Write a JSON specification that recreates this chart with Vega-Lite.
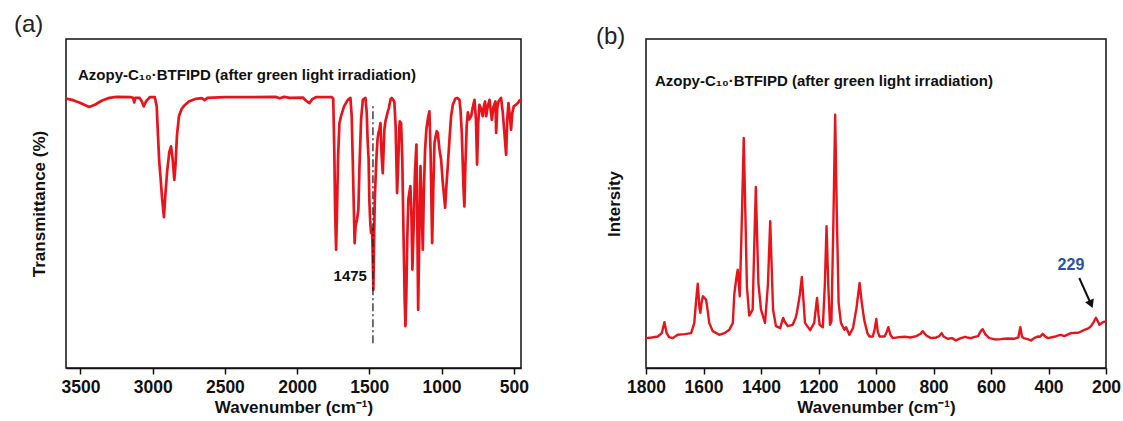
{
  "$schema": "https://vega.github.io/schema/vega-lite/v6.json",
  "background": "white",
  "padding": {"left": 13, "top": 12, "right": 5, "bottom": 5},
  "bounds": "flush",
  "spacing": 125,
  "config": {
    "font": "Liberation Sans",
    "view": {"stroke": "#111111", "strokeWidth": 1.5},
    "axis": {
      "grid": false,
      "labelFont": "Liberation Sans",
      "labelFontSize": 17.5,
      "labelFontWeight": "bold",
      "labelColor": "#111111",
      "titleFont": "Liberation Sans",
      "titleFontSize": 17,
      "titleFontWeight": "bold",
      "titleColor": "#111111",
      "tickColor": "#111111",
      "tickWidth": 1.5,
      "domainColor": "#111111",
      "domainWidth": 1.5,
      "labelFlush": false,
      "labelOverlap": false
    },
    "axisX": {"labelPadding": 4, "titlePadding": 4, "labelAngle": 0},
    "axisY": {"labels": false, "ticks": false, "domain": false},
    "title": {"font": "Liberation Sans", "fontSize": 24, "fontWeight": "normal", "color": "#222222", "anchor": "start", "frame": "group"}
  },
  "datasets": {
    "ftir": [
      {"wn":3600,"t":82.4},{"wn":3550,"t":81.9},{"wn":3500,"t":81.0},{"wn":3440,"t":79.8},{"wn":3400,"t":80.5},{"wn":3350,"t":81.8},{"wn":3300,"t":82.6},{"wn":3250,"t":82.9},{"wn":3150,"t":82.8},{"wn":3135,"t":82.6},{"wn":3128,"t":81.2},{"wn":3120,"t":82.6},{"wn":3090,"t":82.6},{"wn":3075,"t":81.5},{"wn":3062,"t":80.0},{"wn":3045,"t":81.6},{"wn":3020,"t":82.8},{"wn":2985,"t":82.8},{"wn":2972,"t":80},{"wn":2962,"t":70},{"wn":2955,"t":63.5},{"wn":2945,"t":58},{"wn":2935,"t":52},{"wn":2922,"t":46.1},{"wn":2912,"t":53},{"wn":2900,"t":60},{"wn":2885,"t":66},{"wn":2873,"t":67.8},{"wn":2862,"t":64},{"wn":2850,"t":57.5},{"wn":2842,"t":62},{"wn":2832,"t":71},{"wn":2818,"t":77},{"wn":2800,"t":79.2},{"wn":2780,"t":80.3},{"wn":2750,"t":81.5},{"wn":2700,"t":82.3},{"wn":2660,"t":82.5},{"wn":2640,"t":81.9},{"wn":2620,"t":82.6},{"wn":2500,"t":82.8},{"wn":2300,"t":82.8},{"wn":2150,"t":82.9},{"wn":2120,"t":82.5},{"wn":2090,"t":82.9},{"wn":2050,"t":82.6},{"wn":1960,"t":82.7},{"wn":1940,"t":81.8},{"wn":1915,"t":81.0},{"wn":1895,"t":82.2},{"wn":1870,"t":82.8},{"wn":1800,"t":82.8},{"wn":1760,"t":82.8},{"wn":1750,"t":82.4},{"wn":1742,"t":65},{"wn":1737,"t":48},{"wn":1730,"t":36.2},{"wn":1724,"t":48},{"wn":1716,"t":65},{"wn":1707,"t":74.9},{"wn":1696,"t":77},{"wn":1675,"t":80},{"wn":1649,"t":82.0},{"wn":1631,"t":82.6},{"wn":1622,"t":77},{"wn":1614,"t":62},{"wn":1602,"t":38.2},{"wn":1595,"t":43.5},{"wn":1585,"t":45.4},{"wn":1576,"t":48.4},{"wn":1568,"t":62},{"wn":1557,"t":76},{"wn":1545,"t":82.0},{"wn":1527,"t":82.6},{"wn":1518,"t":78},{"wn":1511,"t":68.8},{"wn":1505,"t":64},{"wn":1500,"t":51.5},{"wn":1494,"t":45},{"wn":1488,"t":41.3},{"wn":1481,"t":42.5},{"wn":1477,"t":35},{"wn":1472,"t":23.9},{"wn":1467,"t":40},{"wn":1462,"t":52},{"wn":1458,"t":56.6},{"wn":1450,"t":65},{"wn":1443,"t":70},{"wn":1437,"t":71.9},{"wn":1430,"t":73},{"wn":1423,"t":74.9},{"wn":1415,"t":65},{"wn":1407,"t":59.6},{"wn":1400,"t":68},{"wn":1396,"t":72.9},{"wn":1388,"t":75.5},{"wn":1380,"t":77},{"wn":1365,"t":79.5},{"wn":1352,"t":82.3},{"wn":1345,"t":82.6},{"wn":1327,"t":81.5},{"wn":1318,"t":74},{"wn":1308,"t":53.5},{"wn":1300,"t":62},{"wn":1293,"t":73},{"wn":1289,"t":75.4},{"wn":1280,"t":74.9},{"wn":1272,"t":64},{"wn":1263,"t":40},{"wn":1255,"t":20},{"wn":1250,"t":12.8},{"wn":1244,"t":22},{"wn":1237,"t":40},{"wn":1230,"t":51.5},{"wn":1222,"t":54},{"wn":1216,"t":55.6},{"wn":1208,"t":46},{"wn":1202,"t":30.1},{"wn":1192,"t":45},{"wn":1184,"t":60},{"wn":1174,"t":68.3},{"wn":1168,"t":45},{"wn":1162,"t":17.8},{"wn":1154,"t":40},{"wn":1146,"t":61.7},{"wn":1138,"t":50},{"wn":1130,"t":36.2},{"wn":1122,"t":55},{"wn":1114,"t":66.8},{"wn":1105,"t":73},{"wn":1094,"t":76.5},{"wn":1084,"t":78.5},{"wn":1076,"t":66},{"wn":1065,"t":38.2},{"wn":1057,"t":55},{"wn":1049,"t":68.8},{"wn":1040,"t":71},{"wn":1033,"t":72.4},{"wn":1026,"t":71.9},{"wn":1015,"t":67},{"wn":1003,"t":63.7},{"wn":992,"t":57},{"wn":975,"t":49},{"wn":966,"t":56},{"wn":957,"t":61.7},{"wn":945,"t":70},{"wn":934,"t":77},{"wn":922,"t":80.5},{"wn":905,"t":82.3},{"wn":890,"t":82.6},{"wn":876,"t":82},{"wn":869,"t":79.0},{"wn":860,"t":72},{"wn":848,"t":55},{"wn":842,"t":49.4},{"wn":835,"t":62},{"wn":826,"t":74},{"wn":818,"t":78.2},{"wn":808,"t":76},{"wn":795,"t":77.0},{"wn":785,"t":79.5},{"wn":772,"t":82.0},{"wn":762,"t":76},{"wn":754,"t":62.2},{"wn":746,"t":75},{"wn":738,"t":80.5},{"wn":726,"t":79.2},{"wn":715,"t":77.0},{"wn":707,"t":80},{"wn":699,"t":81.5},{"wn":691,"t":77.0},{"wn":680,"t":80},{"wn":668,"t":82.0},{"wn":660,"t":79},{"wn":652,"t":75.9},{"wn":640,"t":80},{"wn":627,"t":81.5},{"wn":622,"t":71.9},{"wn":614,"t":79.5},{"wn":606,"t":81.5},{"wn":588,"t":82.6},{"wn":576,"t":78.0},{"wn":565,"t":72},{"wn":553,"t":65.2},{"wn":545,"t":76},{"wn":537,"t":81.0},{"wn":527,"t":77},{"wn":519,"t":72.9},{"wn":510,"t":78},{"wn":500,"t":80.0},{"wn":485,"t":80.5},{"wn":472,"t":81.0},{"wn":460,"t":81.8},{"wn":450,"t":82.0}
    ],
    "raman": [
      {"wn":1800,"i":9.0},{"wn":1780,"i":9.2},{"wn":1759,"i":9.5},{"wn":1745,"i":10.5},{"wn":1736,"i":13.8},{"wn":1728,"i":10.5},{"wn":1720,"i":9.3},{"wn":1707,"i":9.0},{"wn":1690,"i":10.0},{"wn":1665,"i":10.2},{"wn":1643,"i":10.5},{"wn":1632,"i":13.6},{"wn":1625,"i":21},{"wn":1620,"i":25.4},{"wn":1614,"i":18},{"wn":1611,"i":16.6},{"wn":1606,"i":20},{"wn":1602,"i":21.6},{"wn":1591,"i":20.6},{"wn":1585,"i":17},{"wn":1580,"i":13.6},{"wn":1568,"i":11.1},{"wn":1545,"i":10.0},{"wn":1525,"i":10.6},{"wn":1510,"i":11.5},{"wn":1498,"i":13.6},{"wn":1493,"i":22.1},{"wn":1486,"i":27},{"wn":1481,"i":29.6},{"wn":1477,"i":25},{"wn":1474,"i":21.6},{"wn":1468,"i":40},{"wn":1460,"i":69.3},{"wn":1454,"i":45},{"wn":1449,"i":24.6},{"wn":1441,"i":15.8},{"wn":1433,"i":17},{"wn":1429,"i":17.6},{"wn":1424,"i":35},{"wn":1418,"i":54.5},{"wn":1413,"i":38},{"wn":1409,"i":25.6},{"wn":1405,"i":22},{"wn":1400,"i":17.6},{"wn":1386,"i":13.6},{"wn":1376,"i":25},{"wn":1368,"i":44.2},{"wn":1362,"i":28},{"wn":1358,"i":17.6},{"wn":1348,"i":12.6},{"wn":1333,"i":12.0},{"wn":1327,"i":14},{"wn":1323,"i":15.1},{"wn":1318,"i":14},{"wn":1307,"i":12.6},{"wn":1290,"i":13.0},{"wn":1280,"i":15},{"wn":1275,"i":16.8},{"wn":1265,"i":22},{"wn":1258,"i":27.4},{"wn":1252,"i":20},{"wn":1247,"i":13.6},{"wn":1229,"i":11.4},{"wn":1215,"i":13.6},{"wn":1205,"i":21.1},{"wn":1200,"i":16},{"wn":1196,"i":13.0},{"wn":1185,"i":12.3},{"wn":1178,"i":25},{"wn":1172,"i":42.7},{"wn":1166,"i":25},{"wn":1160,"i":13.0},{"wn":1155,"i":14},{"wn":1148,"i":45},{"wn":1142,"i":76.3},{"wn":1136,"i":45},{"wn":1130,"i":19.6},{"wn":1122,"i":13.6},{"wn":1110,"i":11.5},{"wn":1104,"i":12.3},{"wn":1093,"i":10.0},{"wn":1080,"i":12},{"wn":1068,"i":18},{"wn":1057,"i":25.6},{"wn":1050,"i":20},{"wn":1041,"i":14.5},{"wn":1030,"i":10.5},{"wn":1023,"i":9.5},{"wn":1011,"i":9.5},{"wn":1004,"i":12},{"wn":999,"i":14.8},{"wn":994,"i":11},{"wn":988,"i":9.5},{"wn":970,"i":9.5},{"wn":962,"i":11},{"wn":957,"i":12.3},{"wn":950,"i":10},{"wn":942,"i":9.0},{"wn":920,"i":9.3},{"wn":900,"i":9.4},{"wn":880,"i":9.2},{"wn":860,"i":9.6},{"wn":845,"i":10.3},{"wn":838,"i":11.1},{"wn":825,"i":9.8},{"wn":809,"i":9.0},{"wn":790,"i":9.2},{"wn":780,"i":9.6},{"wn":772,"i":10.5},{"wn":765,"i":9.5},{"wn":751,"i":8.8},{"wn":735,"i":9.0},{"wn":722,"i":8.3},{"wn":705,"i":9.0},{"wn":690,"i":9.4},{"wn":683,"i":9.2},{"wn":670,"i":9.0},{"wn":660,"i":9.3},{"wn":645,"i":9.6},{"wn":635,"i":11.2},{"wn":629,"i":11.7},{"wn":620,"i":10.2},{"wn":606,"i":9.0},{"wn":585,"i":8.6},{"wn":566,"i":8.7},{"wn":545,"i":8.9},{"wn":520,"i":8.8},{"wn":505,"i":9.2},{"wn":498,"i":12.3},{"wn":492,"i":9.4},{"wn":486,"i":9.0},{"wn":470,"i":8.6},{"wn":461,"i":8.3},{"wn":450,"i":9.0},{"wn":438,"i":9.5},{"wn":430,"i":9.4},{"wn":420,"i":10.3},{"wn":410,"i":9.4},{"wn":402,"i":9.0},{"wn":380,"i":9.4},{"wn":365,"i":9.8},{"wn":357,"i":10.0},{"wn":345,"i":9.6},{"wn":322,"i":10.5},{"wn":300,"i":10.6},{"wn":294,"i":10.7},{"wn":275,"i":11.5},{"wn":260,"i":12.0},{"wn":252,"i":12.6},{"wn":242,"i":14},{"wn":235,"i":15.1},{"wn":228,"i":14},{"wn":223,"i":13.0},{"wn":211,"i":13.8},{"wn":200,"i":14.0}
    ]
  },
  "hconcat": [
    {
      "width": 455,
      "height": 329,
      "title": {"text": "(a)", "dx": -52, "offset": 0, "dy": -2},
      "layer": [
        {
          "data": {"name": "ftir"},
          "mark": {"type": "line", "color": "#e8141c", "strokeWidth": 2.7, "clip": true, "strokeJoin": "round"},
          "encoding": {
            "x": {
              "field": "wn", "type": "quantitative",
              "scale": {"domain": [450, 3600], "reverse": true, "nice": false, "zero": false},
              "axis": {
                "title": "Wavenumber (cm⁻¹)",
                "values": [3500, 3250, 3000, 2750, 2500, 2250, 2000, 1750, 1500, 1250, 1000, 750, 500],
                "labelExpr": "datum.value % 500 === 0 ? datum.value : ''",
                "tickSize": {"condition": {"test": "datum.value % 500 === 0", "value": 6}, "value": 4}
              }
            },
            "y": {
              "field": "t", "type": "quantitative",
              "scale": {"domain": [0, 100.6], "nice": false, "zero": false},
              "axis": {"title": "Transmittance (%)", "titlePadding": 18}
            }
          }
        },
        {
          "data": {"values": [{"wn": 1475, "lo": 7.6, "hi": 80.8}]},
          "mark": {"type": "rule", "color": "#222222", "strokeWidth": 1.3, "strokeDash": [8, 3, 2, 3]},
          "encoding": {
            "x": {"field": "wn", "type": "quantitative"},
            "y": {"field": "lo", "type": "quantitative"},
            "y2": {"field": "hi"}
          }
        },
        {
          "data": {"values": [{"wn": 1475, "t": 28.1, "label": "1475"}]},
          "mark": {"type": "text", "align": "right", "dx": -6, "fontSize": 15, "fontWeight": "bold", "color": "#111111", "font": "Liberation Sans"},
          "encoding": {
            "x": {"field": "wn", "type": "quantitative"},
            "y": {"field": "t", "type": "quantitative"},
            "text": {"field": "label"}
          }
        },
        {
          "data": {"values": [{"wn": 3517, "t": 89.6, "label": "Azopy-C₁₀·BTFIPD (after green light irradiation)"}]},
          "mark": {"type": "text", "align": "left", "fontSize": 15, "fontWeight": "bold", "color": "#111111", "font": "Liberation Sans"},
          "encoding": {
            "x": {"field": "wn", "type": "quantitative"},
            "y": {"field": "t", "type": "quantitative"},
            "text": {"field": "label"}
          }
        }
      ]
    },
    {
      "width": 460,
      "height": 329,
      "title": {"text": "(b)", "dx": -50, "offset": 0, "dy": 10},
      "layer": [
        {
          "data": {"name": "raman"},
          "mark": {"type": "line", "color": "#e8141c", "strokeWidth": 2.4, "clip": true, "strokeJoin": "round"},
          "encoding": {
            "x": {
              "field": "wn", "type": "quantitative",
              "scale": {"domain": [200, 1800], "reverse": true, "nice": false, "zero": false},
              "axis": {
                "title": "Wavenumber (cm⁻¹)",
                "values": [1800, 1700, 1600, 1500, 1400, 1300, 1200, 1100, 1000, 900, 800, 700, 600, 500, 400, 300, 200],
                "labelExpr": "datum.value % 200 === 0 ? datum.value : ''",
                "tickSize": {"condition": {"test": "datum.value % 200 === 0", "value": 6}, "value": 4}
              }
            },
            "y": {
              "field": "i", "type": "quantitative",
              "scale": {"domain": [0, 99.1], "nice": false, "zero": false},
              "axis": {"title": "Intersity", "titlePadding": 23}
            }
          }
        },
        {
          "data": {"values": [{"wn": 1769, "i": 86.4, "label": "Azopy-C₁₀·BTFIPD (after green light irradiation)"}]},
          "mark": {"type": "text", "align": "left", "fontSize": 15, "fontWeight": "bold", "color": "#111111", "font": "Liberation Sans"},
          "encoding": {
            "x": {"field": "wn", "type": "quantitative"},
            "y": {"field": "i", "type": "quantitative"},
            "text": {"field": "label"}
          }
        },
        {
          "data": {"values": [{"wn": 322, "i": 31.1, "label": "229"}]},
          "mark": {"type": "text", "align": "center", "fontSize": 16, "fontWeight": "bold", "color": "#2a52a8", "font": "Liberation Sans"},
          "encoding": {
            "x": {"field": "wn", "type": "quantitative"},
            "y": {"field": "i", "type": "quantitative"},
            "text": {"field": "label"}
          }
        },
        {
          "data": {"values": [{"wn": 293, "i": 27.1, "wn2": 252, "i2": 19.2}]},
          "mark": {"type": "rule", "color": "#111111", "strokeWidth": 2},
          "encoding": {
            "x": {"field": "wn", "type": "quantitative"},
            "y": {"field": "i", "type": "quantitative"},
            "x2": {"field": "wn2"},
            "y2": {"field": "i2"}
          }
        },
        {
          "data": {"values": [{"wn": 252, "i": 19.2}]},
          "mark": {"type": "point", "shape": "triangle-down", "filled": true, "color": "#111111", "size": 90, "angle": 337, "opacity": 1},
          "encoding": {
            "x": {"field": "wn", "type": "quantitative"},
            "y": {"field": "i", "type": "quantitative"}
          }
        }
      ]
    }
  ]
}
